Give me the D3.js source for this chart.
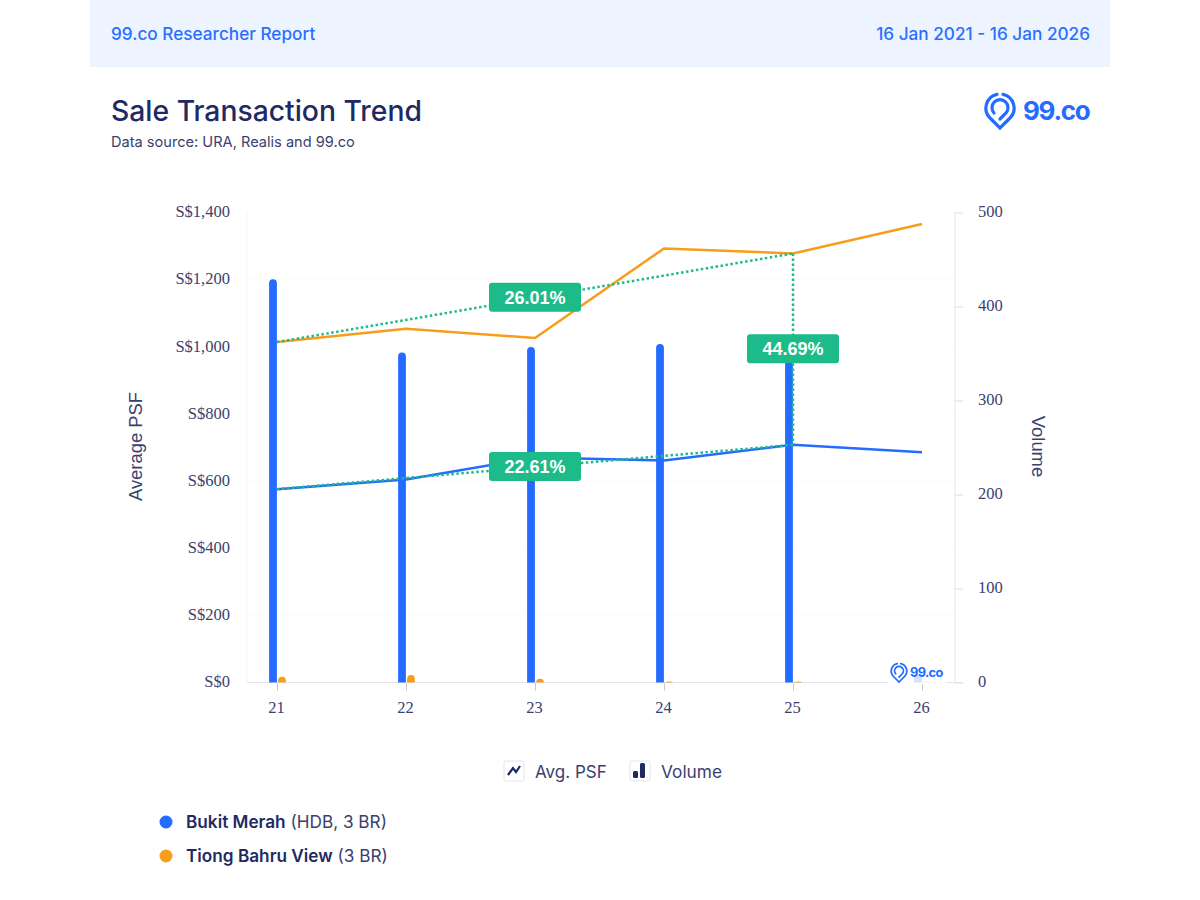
<!doctype html>
<html>
<head>
<meta charset="utf-8">
<title>Sale Transaction Trend</title>
<script src="https://cdnjs.cloudflare.com/ajax/libs/d3/7.8.5/d3.min.js"></script>
<style>
    html, body { margin: 0; padding: 0; background: #fff; }
    svg { display: block; }
    text { font-family: Inter, "Noto Sans", sans-serif; }
    .tick-label { font-family: "Liberation Serif", serif; font-size: 16.5px; fill: #3a4170; }
</style>
</head>
<body>
<svg id="chart" width="1200" height="900"></svg>
<script>
    var years = ["21", "22", "23", "24", "25", "26"];
    var psfBukit = [576, 605, 670, 661, 708, 686];
    var psfTiong = [1014, 1054, 1026, 1293, 1278, 1366];
    var volBukit = [429, 351, 357, 360, 352, 8];
    var volTiong = [6, 8, 4, 1, 1, 1];
    var psfTicks = [0, 200, 400, 600, 800, 1000, 1200, 1400];
    var volTicks = [0, 100, 200, 300, 400, 500];
    var growthLabels = ["26.01%", "22.61%", "44.69%"];

    var blue = "#246bff", orange = "#f89c1c", green = "#1dbb8a", navy = "#1f2a63", slate = "#3a4170";

    var svg = d3.select("#chart");

    var x = d3.scalePoint().domain(years).range([277, 922]);
    var yPsf = d3.scaleLinear().domain([0, 1400]).range([682.5, 212.5]);
    var yVol = d3.scaleLinear().domain([0, 500]).range([682.5, 212.5]);

    // header
    svg.append("rect").attr("x", 90).attr("y", 0).attr("width", 1020).attr("height", 67).attr("fill", "#edf4ff");
    svg.append("text").attr("x", 111).attr("y", 40).attr("font-size", 17.2).attr("font-weight", 500)
        .attr("fill", "#2b6fff").text("99.co Researcher Report");
    svg.append("text").attr("x", 1090).attr("y", 40).attr("text-anchor", "end").attr("font-size", 17.2).attr("font-weight", 500)
        .attr("fill", "#2b6fff").text("16 Jan 2021 - 16 Jan 2026");

    svg.append("text").attr("x", 111).attr("y", 121).attr("font-size", 28.3).attr("font-weight", 500)
        .attr("fill", navy).text("Sale Transaction Trend");
    svg.append("text").attr("x", 111).attr("y", 147).attr("font-size", 14.6)
        .attr("fill", slate).text("Data source: URA, Realis and 99.co");

    function logo(cx, cy, s, fontSize, textX, baseY) {
        var g = svg.append("g");
        var pin = g.append("g").attr("transform", "translate(" + cx + "," + cy + ") scale(" + s + ")")
            .attr("fill", "none").attr("stroke", blue).attr("stroke-width", 3.2).attr("stroke-linecap", "round");
        pin.append("path").attr("d", "M-3 -13.6 A14 14 0 0 0 -10 10 L0 20 L10 10 A14 14 0 0 0 3 -13.6");
        pin.append("path").attr("d", "M-6 5 A8 8 0 1 1 6 5 L0 11");
        g.append("text").attr("x", textX).attr("y", baseY).attr("font-size", fontSize).attr("font-weight", 700)
            .attr("letter-spacing", -fontSize * 0.05).attr("fill", blue).text("99.co");
    }
    logo(1000, 108, 1, 26, 1023, 120);

    // grid
    svg.append("g").selectAll("line").data(psfTicks).join("line")
        .attr("x1", 247).attr("x2", 955)
        .attr("y1", function (d) { return yPsf(d); }).attr("y2", function (d) { return yPsf(d); })
        .attr("stroke", "#fbfbfd");

    svg.append("line").attr("x1", 955).attr("x2", 955).attr("y1", 212).attr("y2", 683).attr("stroke", "#e6e6ee");
    svg.append("line").attr("x1", 247).attr("x2", 247).attr("y1", 212).attr("y2", 683).attr("stroke", "#f6f6fa");

    // axes
    var axisL = svg.append("g").attr("transform", "translate(233,0)")
        .call(d3.axisLeft(yPsf).tickValues(psfTicks).tickSize(0).tickPadding(3)
            .tickFormat(function (d) { return "S$" + d3.format(",")(d); }));
    axisL.select(".domain").remove();

    var axisR = svg.append("g").attr("transform", "translate(955,0)")
        .call(d3.axisRight(yVol).tickValues(volTicks).tickSize(8).tickPadding(15));
    axisR.select(".domain").remove();
    axisR.selectAll("line").attr("stroke", "#dcdce4");

    var axisB = svg.append("g").attr("transform", "translate(0,682.5)")
        .call(d3.axisBottom(x).tickSize(8).tickPadding(10.5));
    axisB.select(".domain").remove();
    axisB.selectAll("line").attr("stroke", "#c8c8d0");
    axisB.selectAll("text").attr("dx", -1);
    svg.append("line").attr("x1", 247).attr("x2", 963).attr("y1", 682.5).attr("y2", 682.5).attr("stroke", "#e4e4ee");

    svg.selectAll(".tick text").attr("class", "tick-label").attr("font-family", null).attr("font-size", null);
    axisL.selectAll("text").attr("dy", "0.26em");
    axisR.selectAll("text").attr("dy", "0.26em");
    axisL.attr("font-family", null).attr("font-size", null);
    axisR.attr("font-family", null).attr("font-size", null);
    axisB.attr("font-family", null).attr("font-size", null);

    svg.append("text").attr("transform", "translate(142,446.5) rotate(-90)").attr("text-anchor", "middle")
        .attr("font-size", 18.4).attr("fill", slate).style("font-family", "'Liberation Sans', sans-serif").text("Average PSF");
    svg.append("text").attr("transform", "translate(1032,446.5) rotate(90)").attr("text-anchor", "middle")
        .attr("font-size", 18.4).attr("fill", slate).style("font-family", "'Liberation Sans', sans-serif").text("Volume");

    // lines
    var linePsf = d3.line().x(function (d, i) { return x(years[i]); }).y(function (d) { return yPsf(d); });
    svg.append("path").attr("d", linePsf(psfTiong)).attr("fill", "none").attr("stroke", orange).attr("stroke-width", 2.5);
    svg.append("path").attr("d", linePsf(psfBukit)).attr("fill", "none").attr("stroke", blue).attr("stroke-width", 2.5);

    // bars, rounded at the top
    function barPath(cx, v) {
        var w = 3.9, top = yVol(v), base = yVol(0);
        var r = Math.min(w, base - top);
        return "M" + (cx - w) + " " + base + " V" + (top + r) +
            " A" + w + " " + r + " 0 0 1 " + (cx + w) + " " + (top + r) + " V" + base + " Z";
    }
    svg.append("g").selectAll("path").data(volBukit).join("path")
        .attr("d", function (d, i) { return barPath(x(years[i]) - 4, d); }).attr("fill", blue);
    svg.append("g").selectAll("path").data(volTiong).join("path")
        .attr("d", function (d, i) { return barPath(x(years[i]) + 5, d); }).attr("fill", orange);

    // growth markers
    var iFrom = 0, iTo = 4;
    var growth = svg.append("g").attr("fill", "none").attr("stroke", green).attr("stroke-width", 2.5).attr("stroke-dasharray", "2.5 2.5");
    growth.append("line").attr("x1", x(years[iFrom])).attr("y1", yPsf(psfTiong[iFrom]))
        .attr("x2", x(years[iTo])).attr("y2", yPsf(psfTiong[iTo]));
    growth.append("line").attr("x1", x(years[iFrom])).attr("y1", yPsf(psfBukit[iFrom]))
        .attr("x2", x(years[iTo])).attr("y2", yPsf(psfBukit[iTo]));
    growth.append("line").attr("x1", x(years[iTo])).attr("y1", yPsf(psfTiong[iTo]))
        .attr("x2", x(years[iTo])).attr("y2", yPsf(psfBukit[iTo]));

    var midX = (x(years[iFrom]) + x(years[iTo])) / 2;
    var badgePos = [
        [midX, yPsf((psfTiong[iFrom] + psfTiong[iTo]) / 2)],
        [midX, yPsf((psfBukit[iFrom] + psfBukit[iTo]) / 2)],
        [x(years[iTo]), yPsf((psfTiong[iTo] + psfBukit[iTo]) / 2)]
    ];
    var badges = svg.append("g").selectAll("g").data(growthLabels).join("g")
        .attr("transform", function (d, i) { return "translate(" + badgePos[i][0] + "," + (badgePos[i][1] - 0.5) + ")"; });
    badges.append("rect").attr("x", -46).attr("y", -14.5).attr("width", 92).attr("height", 29).attr("rx", 3).attr("fill", green);
    badges.append("text").attr("text-anchor", "middle").attr("y", 6.5).attr("font-size", 18).attr("font-weight", 700)
        .attr("fill", "#fff").style("font-family", "'Liberation Sans', sans-serif").text(function (d) { return d; });

    // watermark sits over the last bars
    svg.append("rect").attr("x", 888).attr("y", 660).attr("width", 58).attr("height", 24).attr("fill", "#fff").attr("opacity", 0.8);
    logo(899, 671, 0.55, 12.8, 910, 677);

    // chart type legend
    var boxes = svg.append("g");
    boxes.selectAll("rect").data([504, 630]).join("rect")
        .attr("x", function (d) { return d; }).attr("y", 761).attr("width", 20).attr("height", 20).attr("rx", 2)
        .attr("fill", "#fff").attr("stroke", "#e2e4f0");
    boxes.append("path").attr("d", "M508 775 L513 768 L516 772 L520 766").attr("fill", "none").attr("stroke", navy).attr("stroke-width", 2.2);
    boxes.append("rect").attr("x", 633).attr("y", 771).attr("width", 5).attr("height", 7).attr("rx", 1.5).attr("fill", navy);
    boxes.append("rect").attr("x", 640).attr("y", 763).attr("width", 5).attr("height", 15).attr("rx", 1.5).attr("fill", navy);
    svg.append("text").attr("x", 535).attr("y", 778).attr("font-size", 17).attr("fill", slate).text("Avg. PSF");
    svg.append("text").attr("x", 661).attr("y", 778).attr("font-size", 17.3).attr("fill", slate).text("Volume");

    // location legend
    var seriesNames = ["Bukit Merah", "Tiong Bahru View"];
    var seriesNotes = [" (HDB, 3 BR)", " (3 BR)"];
    var seriesColors = [blue, orange];
    var rows = svg.append("g").selectAll("g").data(seriesNames).join("g")
        .attr("transform", function (d, i) { return "translate(0," + (822 + i * 34) + ")"; });
    rows.append("circle").attr("cx", 166).attr("r", 6.5).attr("fill", function (d, i) { return seriesColors[i]; });
    var rowText = rows.append("text").attr("x", 186).attr("y", 6).attr("font-size", 17.2).attr("fill", slate);
    rowText.append("tspan").attr("font-weight", 600).attr("fill", navy).text(function (d) { return d; });
    rowText.append("tspan").text(function (d, i) { return seriesNotes[i]; });
</script>
</body>
</html>
